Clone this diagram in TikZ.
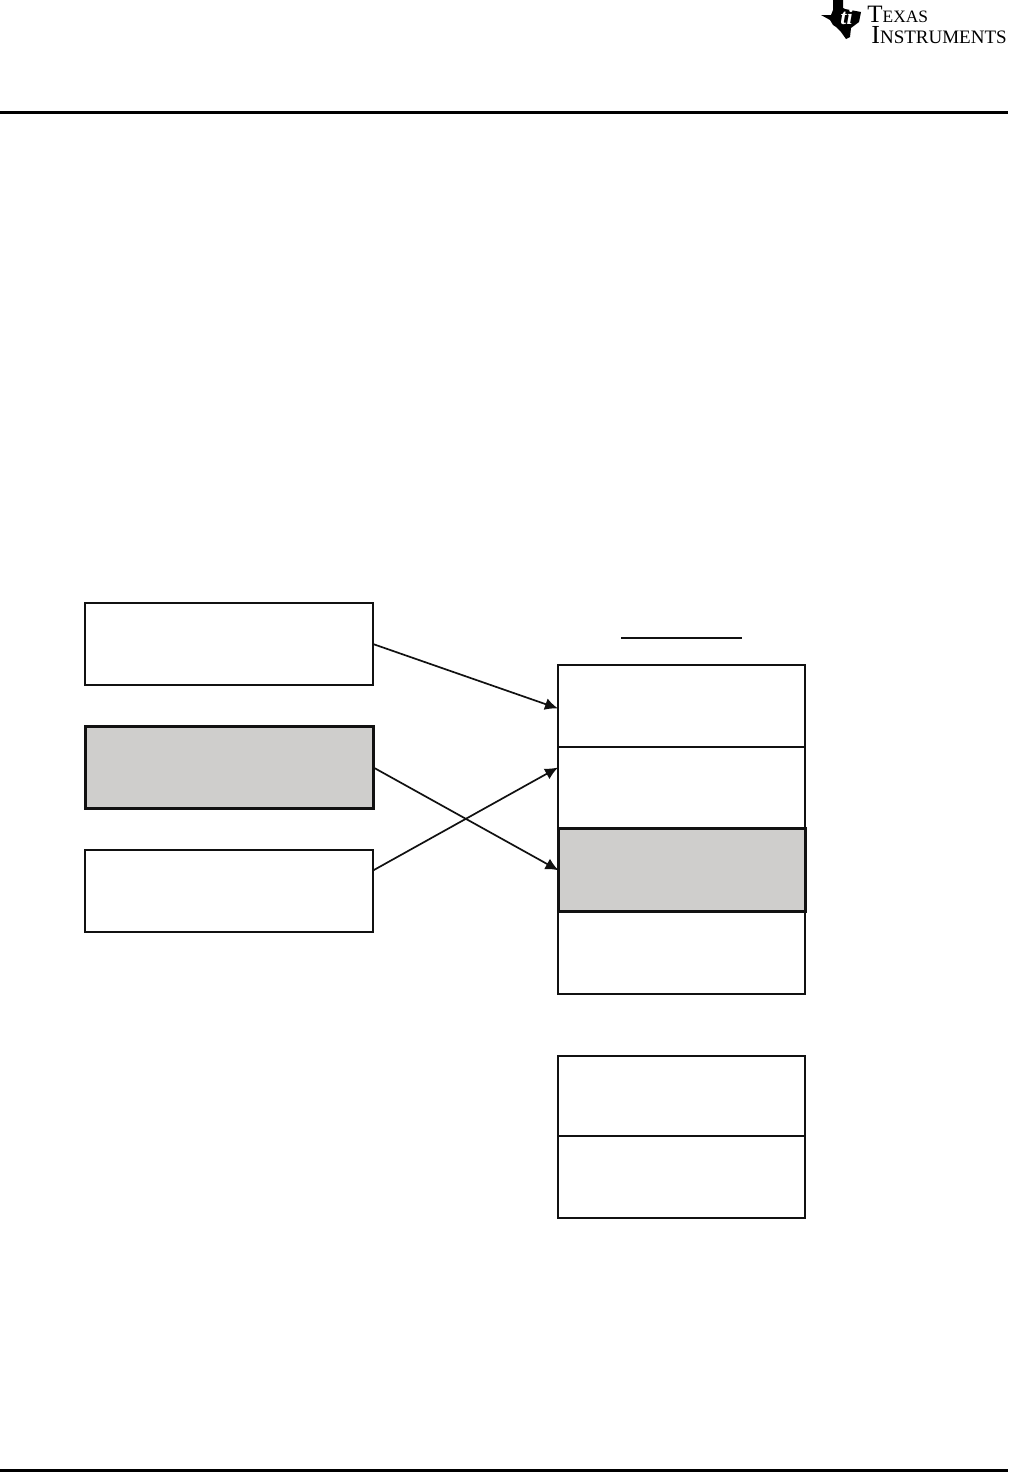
\documentclass[tikz,border=0pt]{standalone}
\usepackage{fontspec}
\usepackage{xcolor}
\usetikzlibrary{arrows.meta,positioning,calc}
\setmainfont{Liberation Serif}
\definecolor{ink}{HTML}{111111}
\definecolor{cellgray}{HTML}{CFCECC}
\tikzset{
  plainbox/.style={
    draw=ink, fill=white, line width=1pt, rectangle, outer sep=0pt,
    inner sep=0pt, minimum width=144pt, minimum height=41pt
  },
  graybox/.style={
    draw=ink, fill=cellgray, line width=1.5pt, rectangle, outer sep=0pt,
    inner sep=0pt, minimum width=144pt, minimum height=41pt
  },
  plaincell/.style={
    draw=ink, fill=white, line width=1pt, rectangle, outer sep=0pt,
    inner sep=0pt, minimum width=123.5pt, minimum height=41pt
  },
  graycell/.style={
    draw=ink, fill=cellgray, line width=1.4pt, rectangle, outer sep=0pt,
    inner sep=0pt, minimum width=123.5pt, minimum height=41.5pt
  },
  linkarrow/.style={draw=ink, line width=0.85pt, -{Latex[length=6.5pt,width=6pt]}},
  pagerule/.style={draw=black, line width=1.5pt},
  logotext/.style={inner sep=0pt, anchor=base west, text=black}
}
\begin{document}
\begin{tikzpicture}[x=0.5pt,y=-0.5pt]
  \useasboundingbox (0,0) rectangle (1008,1472);
  % page rules
  \coordinate (headL) at (0,112);
  \coordinate (headR) at (1008,112);
  \coordinate (footL) at (0,1470.5);
  \coordinate (footR) at (1008,1470.5);
  \draw[pagerule] (headL) -- (headR);
  \draw[pagerule] (footL) -- (footR);
  % logo
  \fill[black] (833,0) -- (843,0) -- (843,8) -- (845,9) -- (861,12) -- (859,22) -- (851,28) -- (850,37) -- (846,39) -- (841,32) -- (836,27) -- (833,25) -- (830,20) -- (821,15) -- (831,15) -- (833,10) -- cycle;
  \node[logotext,text=white,font=\bfseries\itshape\fontsize{11}{11}\selectfont] (logoti) at (840,25) {ti};
  \node[logotext] (logotexas) at (867,23) {{\fontsize{12.5}{12.5}\selectfont T}{\fontsize{8.7}{8.7}\selectfont EXAS}};
  \node[logotext] (logoinst) at (871,43.5) {{\fontsize{13}{13}\selectfont I}{\fontsize{9.5}{9.5}\selectfont NSTRUMENTS}};
  % left boxes
  \node[plainbox] (srcA) at (229,644) {};
  \node[graybox]  (srcB) at (229.5,767.5) {};
  \node[plainbox] (srcC) at (229,891) {};
  % memory stack
  \node[plaincell] (regA) at (681.5,706) {};
  \node[plaincell] (regB) at (681.5,788) {};
  \node[plaincell] (regD) at (681.5,952.5) {};
  \node[graycell]  (regC) at (682,870.3) {};
  \coordinate (titleL) at (621,638);
  \coordinate (titleR) at (742,638);
  \draw[draw=ink,line width=1pt] (titleL) -- (titleR);
  % second stack
  \node[plaincell,minimum height=40pt] (regE) at (681.5,1096) {};
  \node[plaincell] (regF) at (681.5,1177) {};
  % connectors
  \draw[linkarrow] (srcA.east) -- ($(regA.north west)!0.53!(regA.south west)$);
  \draw[linkarrow] (srcB.east) -- (regC.west);
  \draw[linkarrow] ($(srcC.north east)!0.25!(srcC.south east)$) -- ($(regB.north west)!0.25!(regB.south west)$);
\end{tikzpicture}
\end{document}
